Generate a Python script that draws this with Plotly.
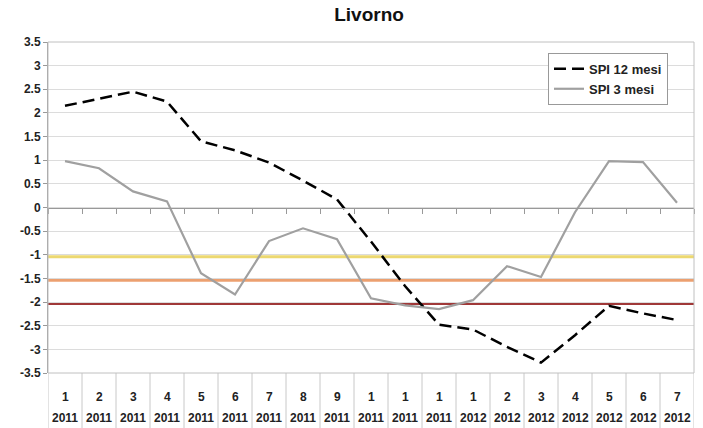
import plotly.graph_objects as go

months = ["1", "2", "3", "4", "5", "6", "7", "8", "9", "1", "1", "1",
          "1", "2", "3", "4", "5", "6", "7"]
years = ["2011"] * 12 + ["2012"] * 7
spi12 = [2.15, 2.3, 2.45, 2.24, 1.4, 1.21, 0.95, 0.57, 0.17, -0.72, -1.66, -2.48,
         -2.58, -2.95, -3.28, -2.7, -2.08, -2.24, -2.38]
spi3 = [0.98, 0.83, 0.34, 0.13, -1.39, -1.84, -0.71, -0.44, -0.67, -1.92, -2.07, -2.15,
        -1.96, -1.24, -1.47, -0.1, 0.98, 0.96, 0.1]
thresholds = [-1.04, -1.54, -2.03]
threshold_colors = ["#ecd870", "#eca070", "#a03838"]
yticks = [3.5, 3, 2.5, 2, 1.5, 1, 0.5, 0, -0.5, -1, -1.5, -2, -2.5, -3, -3.5]

xs = list(range(len(months)))
FONT = "Arial, Liberation Sans, sans-serif"

fig = go.Figure()
fig.add_trace(go.Scatter(x=xs, y=spi12, mode="lines", name="<b>SPI 12 mesi</b>",
                         line=dict(color="black", width=2.5, dash="12px,6px")))
fig.add_trace(go.Scatter(x=xs, y=spi3, mode="lines", name="<b>SPI 3 mesi</b>",
                         line=dict(color="#a0a0a0", width=2.2)))

shapes = []
for v, c in zip(thresholds, threshold_colors):
    shapes.append(dict(type="line", xref="paper", x0=0, x1=1, yref="y", y0=v, y1=v,
                       line=dict(color=c, width=3), layer="below"))
# category separators below the plot
for k in range(len(months) + 1):
    shapes.append(dict(type="line", xref="x", x0=k - 0.5, x1=k - 0.5, yref="paper",
                       y0=0, y1=-0.17, line=dict(color="#c8c8c8", width=1)))
# plot border
shapes.append(dict(type="rect", xref="paper", yref="paper", x0=0, x1=1, y0=0, y1=1,
                   line=dict(color="#c0c0c0", width=1)))

annotations = []
for i, (m, yr) in enumerate(zip(months, years)):
    annotations.append(dict(x=i, y=0, xref="x", yref="paper", text="<b>%s</b>" % m,
                            showarrow=False, yanchor="middle", yshift=-24,
                            font=dict(family=FONT, size=12, color="#222")))
    annotations.append(dict(x=i, y=0, xref="x", yref="paper", text="<b>%s</b>" % yr,
                            showarrow=False, yanchor="middle", yshift=-45,
                            font=dict(family=FONT, size=12, color="#222")))

fig.update_layout(
    width=703, height=428,
    margin=dict(l=48, r=9, t=42, b=55),
    paper_bgcolor="white", plot_bgcolor="white",
    title=dict(text="<b>Livorno</b>", x=0.525, xanchor="center", y=0.966, yanchor="middle",
               font=dict(family=FONT, size=19, color="#111")),
    xaxis=dict(range=[-0.5, len(months) - 0.5], showgrid=False, zeroline=False,
               anchor="free", position=0.5, showline=True, linecolor="#999", linewidth=1,
               tickmode="array", tickvals=[k - 0.5 for k in range(len(months) + 1)],
               ticks="outside", ticklen=5, tickcolor="#999", showticklabels=False),
    yaxis=dict(range=[-3.5, 3.5], tickmode="array", tickvals=yticks,
               ticktext=["<b>%g</b>" % t for t in yticks],
               showgrid=True, gridcolor="#dcdcdc", gridwidth=1, zeroline=False,
               showline=True, linecolor="#999", ticks="outside", ticklen=4, tickcolor="#999",
               tickfont=dict(family=FONT, size=12, color="#222")),
    legend=dict(x=0.774, y=0.967, xanchor="left", yanchor="top",
                bordercolor="#999", borderwidth=1, bgcolor="white",
                font=dict(family=FONT, size=13, color="#222"),
                itemwidth=30, tracegroupgap=0),
    shapes=shapes, annotations=annotations, showlegend=True,
)

fig.write_html("out.html", config={"displayModeBar": False},
               post_script="document.body.style.margin='0px';")
